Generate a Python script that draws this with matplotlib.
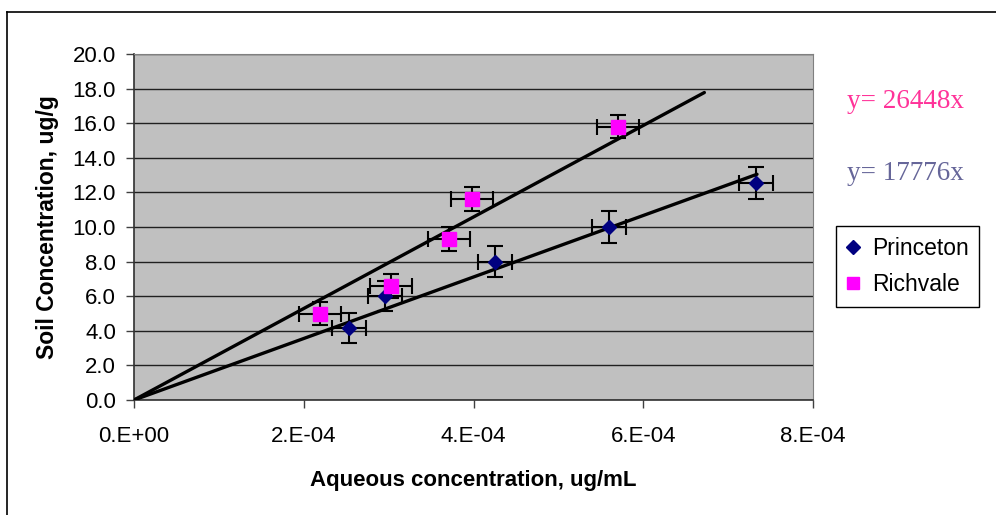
import matplotlib.pyplot as plt
from matplotlib.lines import Line2D
from matplotlib.ticker import FuncFormatter

# Данные
princeton_x = [2.53e-4, 2.96e-4, 4.25e-4, 5.60e-4, 7.33e-4]
princeton_y = [4.15, 6.0, 8.0, 10.0, 12.55]
princeton_xerr = [2.0e-5, 2.0e-5, 2.0e-5, 2.0e-5, 2.0e-5]
princeton_yerr = [0.88, 0.88, 0.88, 0.93, 0.93]

richvale_x = [2.19e-4, 3.03e-4, 3.71e-4, 3.98e-4, 5.70e-4]
richvale_y = [5.0, 6.6, 9.3, 11.6, 15.8]
richvale_xerr = [2.5e-5, 2.5e-5, 2.5e-5, 2.5e-5, 2.5e-5]
richvale_yerr = [0.69, 0.68, 0.69, 0.69, 0.68]

# Линии тренда (через ноль)
slopes = {'Princeton': 17776, 'Richvale': 26448}
line_end_x = {'Princeton': 7.34e-4, 'Richvale': 6.72e-4}

plt.rcParams['font.family'] = ['Liberation Sans', 'DejaVu Sans']

fig = plt.figure(figsize=(9.96, 5.15), dpi=100)
ax = fig.add_axes([134 / 996, 115 / 515, 679 / 996, 346 / 515])
ax.set_facecolor('#C0C0C0')

for name in ['Richvale', 'Princeton']:
    ax.plot([0, line_end_x[name]], [0, slopes[name] * line_end_x[name]],
            color='black', lw=2.4, solid_capstyle='round', zorder=3)

ax.errorbar(princeton_x, princeton_y, xerr=princeton_xerr, yerr=princeton_yerr,
            fmt='D', color='#000080', markersize=7.5, ecolor='black',
            elinewidth=1.5, capsize=5.5, capthick=1.5, zorder=4)
ax.errorbar(richvale_x, richvale_y, xerr=richvale_xerr, yerr=richvale_yerr,
            fmt='s', color='#FF00FF', markersize=9.5, ecolor='black',
            elinewidth=1.5, capsize=5.5, capthick=1.5, zorder=4)

ax.set_xlim(0, 8e-4)
ax.set_ylim(0, 20)
ax.set_xticks([0, 2e-4, 4e-4, 6e-4, 8e-4])
ax.set_yticks(range(0, 21, 2))
ax.xaxis.set_major_formatter(FuncFormatter(lambda v, p: '0.E+00' if v == 0 else f'{v * 1e4:.0f}.E-04'))
ax.yaxis.set_major_formatter(FuncFormatter(lambda v, p: f'{v:.1f}'))
ax.grid(True, axis='y', color='#202020', lw=1)
ax.set_axisbelow(True)

ax.tick_params(axis='both', labelsize=16, length=6, width=1, color='#404040', direction='out')
ax.tick_params(axis='y', pad=7)
ax.tick_params(axis='x', pad=13)
for side in ['left', 'bottom']:
    ax.spines[side].set_color('#303030')
    ax.spines[side].set_linewidth(1.2)
for side in ['top', 'right']:
    ax.spines[side].set_color('#808080')

ax.set_xlabel('Aqueous concentration, ug/mL', fontsize=16, fontweight='bold', labelpad=16)
ax.set_ylabel('Soil Concentration, ug/g', fontsize=16.5, fontweight='bold', labelpad=10)

fig.text(905 / 996, 1 - 101 / 515, 'y= 26448x', color='#FF3399', fontsize=19.5,
         family='Liberation Serif', ha='center', va='center')
fig.text(905 / 996, 1 - 173 / 515, 'y= 17776x', color='#666699', fontsize=19.5,
         family='Liberation Serif', ha='center', va='center')

handles = [Line2D([], [], ls='none', marker='D', color='#000080', markersize=7),
           Line2D([], [], ls='none', marker='s', color='#FF00FF', markersize=9)]
leg = fig.legend(handles, ['Princeton', 'Richvale'], loc='center',
                 bbox_to_anchor=(907.5 / 996, 1 - 266.5 / 515),
                 fontsize=16.5, frameon=True, fancybox=False, edgecolor='black',
                 handlelength=0.6, handletextpad=0.5, borderpad=0.45, labelspacing=0.6)
leg.get_frame().set_linewidth(1)
leg.get_frame().set_alpha(1)

# Рамка области диаграммы
fig.add_artist(Line2D([7 / 996, 7 / 996], [0, 1 - 12 / 515], color='black', lw=1.2))
fig.add_artist(Line2D([7 / 996, 1], [1 - 12 / 515, 1 - 12 / 515], color='black', lw=1.2))

plt.savefig('out.png', dpi=100)
plt.close()
